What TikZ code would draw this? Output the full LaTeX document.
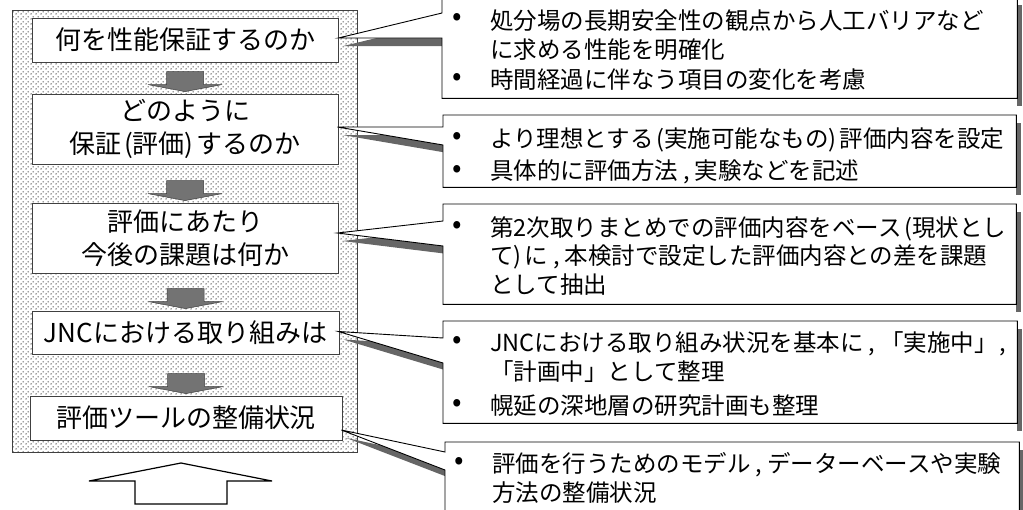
\documentclass[tikz,border=0pt]{standalone}
\usepackage{fontspec}
\setmainfont{Noto Sans CJK JP}
\usetikzlibrary{calc,patterns.meta}

\tikzdeclarepattern{
  name=fdots, type=uncolored,
  bottom left={(0pt,0pt)}, top right={(5pt,5pt)}, tile size={(5pt,5pt)},
  code={
    \pgfpathcircle{\pgfqpoint{1.25pt}{1.25pt}}{0.85pt}
    \pgfpathcircle{\pgfqpoint{3.75pt}{3.75pt}}{0.85pt}
    \pgfusepath{fill}
  }
}

\tikzset{
  stagebox/.style={draw=black!75, line width=0.8pt, fill=white, align=center,
    font=\fontsize{26}{33}\selectfont, inner sep=0pt},
  calloutline/.style={draw=black, line width=0.9pt, fill=white, line join=miter},
  shadowfill/.style={fill=black!60, draw=none},
  cbody/.style={inner sep=0pt, anchor=north west, draw=none},
  ctext/.style={anchor=west, font=\fontsize{23.5}{28}\selectfont, inner sep=0pt},
  bul/.style={font=\fontsize{28}{28}\selectfont, inner sep=0pt},
  arrowfill/.style={fill=black!55, draw=black!75, line width=0.5pt},
  pics/downarr/.style={code={
    \path[arrowfill] (-18.5,0) -- (18.5,0) -- (18.5,13) -- (37,13) -- (0,20)
      -- (-37,13) -- (-18.5,13) -- cycle;}}
}

\begin{document}
\begin{tikzpicture}[x=1pt,y=-1pt]
\useasboundingbox (0,0) rectangle (1023,509);
\clip (0,0) rectangle (1023,509);

% outer dotted frame
\node[draw=black!75, line width=0.8pt, pattern=fdots, pattern color=black!75,
  preaction={fill=white}, minimum width=345pt, minimum height=442pt, inner sep=0pt]
  (frame) at (184.5,231) {};

% stage boxes
\node[stagebox, minimum width=306pt, minimum height=44pt] (b1) at (185,40) {何を性能保証するのか};
\node[stagebox, minimum width=306pt, minimum height=70pt] (b2) at (185,129)
  {どのように\\保証\hspace{3pt}(評価)\hspace{3pt}するのか};
\node[stagebox, minimum width=306pt, minimum height=70pt] (b3) at (185,238)
  {評価にあたり\\今後の課題は何か};
\node[stagebox, minimum width=307pt, minimum height=43pt] (b4) at (185.5,332.5) {JNCにおける取り組みは};
\node[stagebox, minimum width=312pt, minimum height=44pt] (b5) at (186,418) {評価ツールの整備状況};

% down arrows between stages
\pic at ($(b2.north)+(0,-22)$) {downarr};
\pic at ($(b3.north)+(0,-22)$) {downarr};
\pic at ($(b4.north)+(0,-22)$) {downarr};
\pic at ($(b5.north)+(0,-22)$) {downarr};

% hollow up arrow
\draw[line width=1.2pt, fill=white] (135,504) -- (227,504) -- (227,481) -- (272,481)
  -- (181,463) -- (89,481) -- (135,481) -- cycle;

% callout bodies (geometry)
\node[cbody, minimum width=575pt, minimum height=101pt] (c1) at (442,-3) {};
\node[cbody, minimum width=573pt, minimum height=72pt]  (c2) at (443,115) {};
\node[cbody, minimum width=573pt, minimum height=100pt] (c3) at (443,204) {};
\node[cbody, minimum width=574pt, minimum height=102pt] (c4) at (443,321) {};
\node[cbody, minimum width=574pt, minimum height=80pt]  (c5) at (445,442) {};

% pointer tips
\coordinate (t1) at ($(b1.east)+(0,-2)$);
\coordinate (t2) at ($(b2.east)+(-1,-2)$);
\coordinate (t3) at ($(b3.east)+(-1,-5)$);
\coordinate (t4) at ($(b4.east)+(-1,-1)$);
\coordinate (t5) at ($(b5.east)+(-1,12)$);

% shadows
\foreach \c/\t/\pa/\pb in {c1/t1/16/41, c2/t2/12/30, c3/t3/17/42, c4/t4/17/42, c5/t5/10/28}{
  \path[shadowfill] ($(\c.north east)+(0,8)$) rectangle ($(\c.south east)+(5,8)$);
  \path[shadowfill] ($(\t)+(5,8)$) -- ($(\c.north west)+(5,\pa+8)$) -- ($(\c.north west)+(5,\pb+8)$) -- cycle;
}

% callout outlines
\foreach \c/\t/\pa/\pb in {c1/t1/16/41, c2/t2/12/30, c3/t3/17/42, c4/t4/17/42, c5/t5/10/28}{
  \path[calloutline] (\c.north west) -- (\c.north east) -- (\c.south east) -- (\c.south west)
    -- ($(\c.north west)+(0,\pb)$) -- (\t) -- ($(\c.north west)+(0,\pa)$) -- cycle;
}

% callout texts
\node[bul] (c1u1) at (457,19) {•};
\node[ctext] (c1l1) at (490,21) {処分場の長期安全性の観点から人工バリアなど};
\node[ctext] (c1l2) at (490,50) {に求める性能を明確化};
\node[bul] (c1u2) at (457,79) {•};
\node[ctext] (c1l3) at (490,80) {時間経過に伴なう項目の変化を考慮};

\node[bul] (c2u1) at (457,138) {•};
\node[ctext] (c2l1) at (490,140) {より理想とする\hspace{3pt}(実施可能なもの)\hspace{3pt}評価内容を設定};
\node[bul] (c2u2) at (457,171) {•};
\node[ctext] (c2l2) at (490,172) {具体的に評価方法\hspace{5pt},\hspace{5pt}実験などを記述};

\node[bul] (c3u1) at (457,227) {•};
\node[ctext] (c3l1) at (490,229) {第2次取りまとめでの評価内容をベース\hspace{3pt}(現状とし};
\node[ctext] (c3l2) at (490,257) {て)\hspace{3pt}に\hspace{5pt},\hspace{5pt}本検討で設定した評価内容との差を課題};
\node[ctext] (c3l3) at (490,285) {として抽出};

\node[bul] (c4u1) at (457,342) {•};
\node[ctext] (c4l1) at (490,344) {JNCにおける取り組み状況を基本に\hspace{5pt},\hspace{5pt}「実施中」\hspace{2pt},};
\node[ctext] (c4l2) at (490,372) {「計画中」として整理};
\node[bul] (c4u2) at (457,405) {•};
\node[ctext] (c4l3) at (490,406) {幌延の深地層の研究計画も整理};

\node[bul] (c5u1) at (459,463) {•};
\node[ctext] (c5l1) at (492,465) {評価を行うためのモデル\hspace{5pt},\hspace{5pt}データーベースや実験};
\node[ctext] (c5l2) at (492,493) {方法の整備状況};
\end{tikzpicture}
\end{document}
